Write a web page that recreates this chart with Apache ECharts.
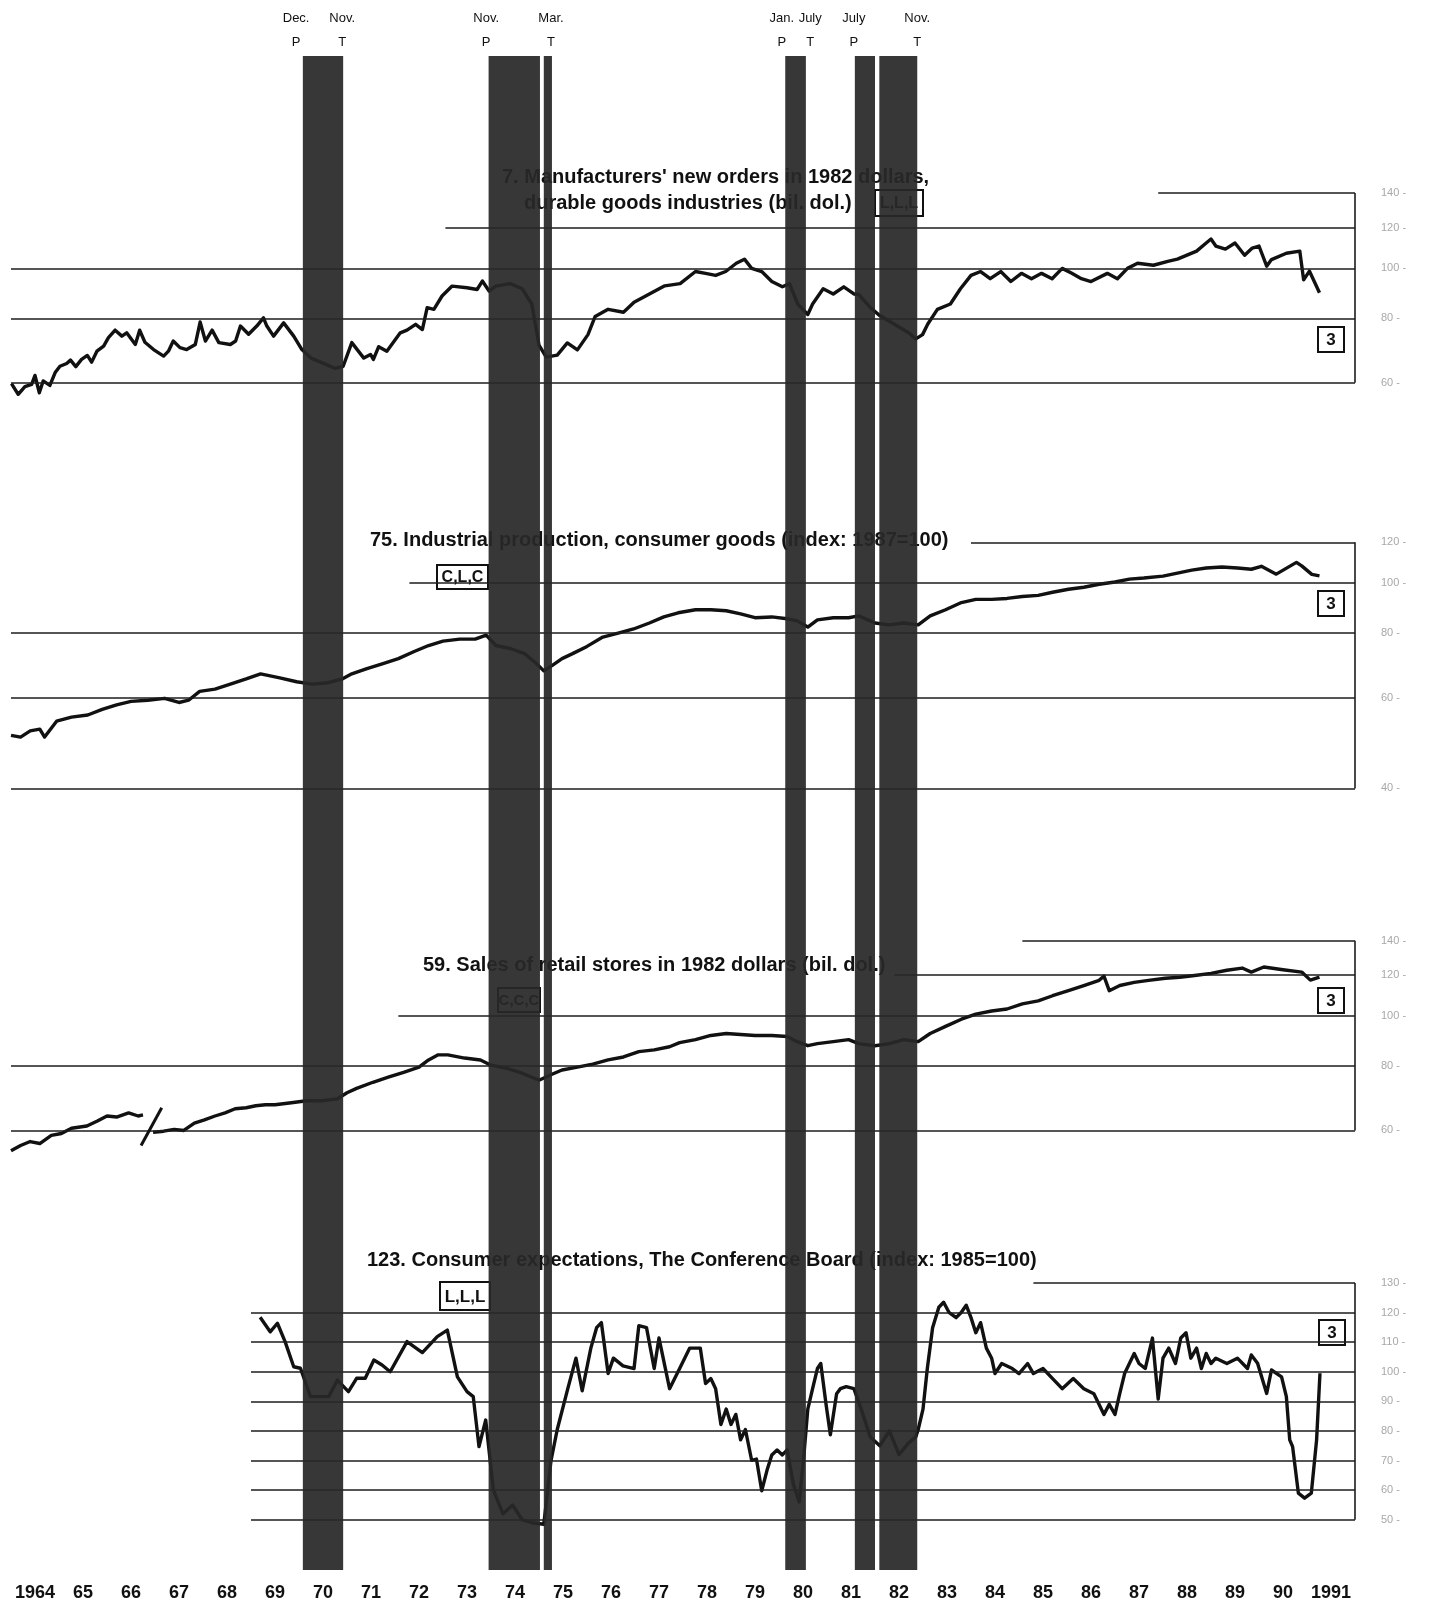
<!DOCTYPE html>
<html><head><meta charset="utf-8">
<script src="https://cdn.jsdelivr.net/npm/echarts@6/dist/echarts.min.js"></script>
<style>html,body{margin:0;background:#fff}#c{width:1452px;height:1602px}</style>
</head><body><div id="c"></div><script>
// ---------------- data ----------------
const yearTicks = ['1964','65','66','67','68','69','70','71','72','73','74','75','76','77','78','79','80','81','82','83','84','85','86','87','88','89','90','1991'];

const recessionBands = [[1970.08,1970.92],[1973.95,1975.02],[1975.10,1975.27],[1980.13,1980.56],[1981.58,1982.00],[1982.09,1982.88]];
const turnDates  = [1969.94, 1970.90, 1973.90, 1975.25, 1980.06, 1980.65, 1981.56, 1982.88];
const turnMonths = ['Dec.','Nov.','Nov.','Mar.','Jan.','July','July','Nov.'];
const turnTypes  = ['P','T','P','T','P','T','P','T'];

const titles = [
  ["7. Manufacturers' new orders in 1982 dollars,", "durable goods industries (bil. dol.)"],
  ["75. Industrial production, consumer goods (index: 1987=100)"],
  ["59. Sales of retail stores in 1982 dollars (bil. dol.)"],
  ["123. Consumer expectations, The Conference Board (index: 1985=100)"]
];
const timingCodes = ['L,L,L','C,L,C','C,C,C','L,L,L'];

const p1Levels = [140,120,100,80,60];
const p1Starts = [1987.9,1973.05,1964,1964,1964];
const p2Levels = [120,100,80,60,40];
const p2Starts = [1984.0,1972.3,1964,1964,1964];
const p3Levels = [140,120,100,80,60];
const p3Starts = [1985.07,1982.4,1972.07,1964,1964];
const p4Levels = [130,120,110,100,90,80,70,60,50];
const p4Starts = [1985.3,1969,1969,1969,1969,1969,1969,1969,1969];

const newOrders = [
[1964.01,59.8],[1964.15,57],[1964.29,59],[1964.43,59.6],[1964.5,62],[1964.59,57.4],[1964.67,60.5],[1964.81,59.3],[1964.92,62.8],[1965.02,64.6],[1965.16,65.4],[1965.24,66.4],[1965.35,64.5],[1965.47,66.6],[1965.59,67.8],[1965.68,65.8],[1965.79,69.1],[1965.93,70.7],[1966.03,73.4],[1966.17,75.9],[1966.31,73.9],[1966.41,75],[1966.59,71.2],[1966.68,75.9],[1966.79,71.9],[1966.97,69.6],[1967.18,67.6],[1967.28,69.1],[1967.38,72.3],[1967.52,70.2],[1967.66,69.6],[1967.84,71.2],[1967.94,78.7],[1968.05,72.3],[1968.19,75.9],[1968.33,71.8],[1968.57,71.2],[1968.68,72.3],[1968.78,77.3],[1968.95,74.5],[1969.12,77.3],[1969.26,80.2],[1969.33,77.3],[1969.47,73.9],[1969.68,78.4],[1969.89,73.9],[1970.06,69.6],[1970.25,67],[1970.5,65.5],[1970.75,64],[1970.92,64.6],[1971.1,71.8],[1971.35,67],[1971.49,68.1],[1971.55,66.6],[1971.66,70.5],[1971.83,69.1],[1972.11,75],[1972.25,75.9],[1972.43,77.9],[1972.57,76.1],[1972.67,83.9],[1972.81,83.3],[1972.98,88.4],[1973.19,92.4],[1973.5,91.7],[1973.71,91],[1973.82,94.5],[1973.96,90.4],[1974.1,92.4],[1974.4,93.4],[1974.65,91.3],[1974.85,85.3],[1975.0,71],[1975.15,67.3],[1975.38,67.9],[1975.59,71.7],[1975.8,69.5],[1976.02,74.4],[1976.17,80.7],[1976.44,83.3],[1976.76,82.2],[1976.98,86],[1977.3,89.2],[1977.62,92.5],[1977.94,93.4],[1978.26,98.6],[1978.47,97.8],[1978.68,96.9],[1978.89,98.6],[1979.11,102.3],[1979.28,104.2],[1979.43,100],[1979.64,98.6],[1979.85,94.3],[1980.07,92.1],[1980.22,93.4],[1980.39,85.3],[1980.6,81.4],[1980.7,85.3],[1980.92,91.3],[1981.13,89.2],[1981.35,92.1],[1981.56,89.2],[1981.66,89],[1981.9,84],[1982.1,81],[1982.3,79],[1982.5,77],[1982.7,75],[1982.85,73],[1982.99,74.4],[1983.1,78],[1983.3,83.3],[1983.57,85.3],[1983.78,91.3],[1984.0,96.9],[1984.2,98.6],[1984.4,95.5],[1984.62,98.6],[1984.83,94.3],[1985.05,97.8],[1985.26,95.5],[1985.47,97.8],[1985.69,95.5],[1985.9,100],[1986.1,97.8],[1986.3,95.5],[1986.5,94.3],[1986.84,97.8],[1987.05,95.5],[1987.26,100],[1987.47,102.3],[1987.8,101.4],[1988.1,103.2],[1988.3,104.2],[1988.5,106.1],[1988.7,108],[1988.9,112],[1989.0,114],[1989.1,110.5],[1989.3,109],[1989.5,112],[1989.7,106],[1989.86,109.5],[1990.0,110.5],[1990.16,101],[1990.26,104],[1990.57,107],[1990.85,108],[1990.93,95],[1991.05,98.8],[1991.26,89.7]
];

const consumerGoods = [
[1964.0,50.7],[1964.2,50.3],[1964.4,51.7],[1964.6,52.1],[1964.7,50.3],[1964.95,54],[1965.26,55],[1965.6,55.5],[1965.9,56.9],[1966.2,58.1],[1966.5,59],[1966.85,59.3],[1967.2,59.8],[1967.5,58.7],[1967.7,59.3],[1967.93,61.7],[1968.25,62.3],[1968.57,63.7],[1968.9,65.2],[1969.2,66.7],[1969.4,66.1],[1969.6,65.5],[1969.95,64.4],[1970.27,63.7],[1970.6,64.1],[1970.9,65.2],[1971.1,66.7],[1971.4,68.2],[1971.75,69.8],[1972.07,71.4],[1972.4,73.7],[1972.7,75.7],[1973.0,77.2],[1973.35,77.9],[1973.67,77.9],[1973.9,79.3],[1974.1,75.7],[1974.4,74.7],[1974.7,73],[1974.95,69.8],[1975.1,67.6],[1975.27,69.2],[1975.48,71.4],[1975.7,73],[1976.0,75.4],[1976.33,78.6],[1976.65,80],[1976.97,81.5],[1977.3,83.7],[1977.6,86],[1977.9,87.6],[1978.26,88.8],[1978.58,88.8],[1978.9,88.4],[1979.2,87.2],[1979.5,85.7],[1979.85,86],[1980.17,85.3],[1980.38,84.5],[1980.6,82.2],[1980.8,84.9],[1981.13,85.7],[1981.45,85.7],[1981.66,86.4],[1982.0,83.7],[1982.3,83],[1982.6,83.7],[1982.9,83],[1983.15,86.4],[1983.47,88.8],[1983.8,91.7],[1984.1,93],[1984.43,93],[1984.75,93.4],[1985.07,94.2],[1985.4,94.7],[1985.7,96],[1986.03,97.3],[1986.35,98.2],[1986.67,99.5],[1987.0,100.5],[1987.3,101.8],[1987.6,102.3],[1988.0,103.2],[1988.3,104.6],[1988.6,106],[1988.9,107],[1989.23,107.5],[1989.55,107],[1989.84,106.4],[1990.05,107.8],[1990.36,104.1],[1990.78,109.7],[1990.89,108],[1991.1,104],[1991.26,103.3]
];

const retailSales = [
[1964.0,54.8],[1964.2,56.1],[1964.4,57.1],[1964.6,56.6],[1964.84,58.7],[1965.05,59.2],[1965.26,60.6],[1965.58,61.2],[1965.8,62.6],[1966.0,64],[1966.2,63.7],[1966.45,64.9],[1966.65,64],[1966.75,64.3],[1966.85,null],[1966.96,59.5],[1967.18,59.8],[1967.4,60.3],[1967.6,60],[1967.82,62],[1968.03,62.9],[1968.25,64],[1968.46,64.9],[1968.67,66.1],[1968.9,66.4],[1969.1,67],[1969.3,67.3],[1969.5,67.3],[1969.84,67.9],[1970.16,68.5],[1970.48,68.5],[1970.8,69.1],[1971.0,71],[1971.2,72.4],[1971.54,74.4],[1971.86,76.1],[1972.18,77.8],[1972.5,79.6],[1972.7,82.2],[1972.9,84.1],[1973.1,84.1],[1973.45,82.9],[1973.78,82.2],[1974.0,80.3],[1974.3,79.3],[1974.6,77.8],[1974.85,76.1],[1975.0,75.1],[1975.27,77.1],[1975.48,78.6],[1975.8,79.6],[1976.12,80.7],[1976.44,82.2],[1976.76,83.3],[1977.08,85.3],[1977.4,86],[1977.72,87.2],[1977.93,88.8],[1978.26,90],[1978.58,91.7],[1978.9,92.5],[1979.2,92.1],[1979.5,91.7],[1979.85,91.7],[1980.17,91.3],[1980.38,89.2],[1980.6,87.6],[1980.8,88.4],[1981.13,89.2],[1981.45,90],[1981.66,88.4],[1982.0,87.6],[1982.3,88.4],[1982.6,90],[1982.9,89.2],[1983.15,92.5],[1983.47,95.5],[1983.8,98.6],[1984.1,100.9],[1984.43,102.3],[1984.75,103.2],[1985.07,105.6],[1985.4,107],[1985.7,109.5],[1986.03,112],[1986.35,114.6],[1986.67,117.3],[1986.77,119.5],[1986.88,112],[1987.1,114.6],[1987.4,116.2],[1987.7,117.3],[1988.05,118.4],[1988.35,118.9],[1988.7,120],[1989.0,121],[1989.33,122.7],[1989.65,123.9],[1989.84,121.7],[1990.1,124.5],[1990.5,123],[1990.89,121.7],[1991.07,117.4],[1991.26,119]
];
const retailBreak = [[1966.71,56.1],[1967.14,66.4]];

const expectations = [
[1969.19,118.4],[1969.4,113.5],[1969.55,116.4],[1969.71,110.2],[1969.89,101.7],[1970.03,101.2],[1970.24,91.6],[1970.62,91.6],[1970.8,97.2],[1971.03,93.3],[1971.2,97.8],[1971.38,97.8],[1971.56,104],[1971.73,102.3],[1971.9,100],[1972.25,110.2],[1972.57,106.5],[1972.88,111.9],[1973.09,114.1],[1973.3,98.3],[1973.5,93.3],[1973.63,91.6],[1973.75,74.7],[1973.89,83.7],[1974.05,60],[1974.25,52],[1974.45,55],[1974.65,50],[1974.85,49],[1975.1,48.5],[1975.25,70],[1975.38,80.5],[1975.6,94.3],[1975.77,104.6],[1975.9,93.6],[1976.08,108],[1976.2,114.9],[1976.3,116.6],[1976.44,99.4],[1976.55,104.6],[1976.75,102],[1976.98,101.1],[1977.08,115.6],[1977.24,114.9],[1977.4,101.1],[1977.5,111.4],[1977.72,94.3],[1977.93,101.1],[1978.14,108],[1978.36,108],[1978.47,96],[1978.58,97.7],[1978.68,94.3],[1978.79,82.2],[1978.9,87.4],[1979.0,82.2],[1979.1,85.6],[1979.2,77],[1979.3,80.5],[1979.43,70.1],[1979.53,70.5],[1979.64,59.8],[1979.75,66.7],[1979.85,71.9],[1979.96,73.6],[1980.07,71.9],[1980.17,73.6],[1980.3,62],[1980.42,56],[1980.52,72],[1980.6,87.4],[1980.7,94.3],[1980.8,101.1],[1980.87,102.8],[1980.98,89],[1981.07,78.7],[1981.2,92.6],[1981.28,94.3],[1981.4,95],[1981.56,94.3],[1981.7,88],[1981.9,78],[1982.1,75],[1982.3,80],[1982.5,72],[1982.7,76],[1982.85,78],[1982.9,80.5],[1983.0,87.4],[1983.09,101.1],[1983.2,114.9],[1983.33,121.8],[1983.43,123.5],[1983.54,120.1],[1983.69,118.3],[1983.8,120.1],[1983.9,122.5],[1984.0,118.3],[1984.1,113.2],[1984.2,116.6],[1984.32,108],[1984.43,104.6],[1984.5,99.4],[1984.64,102.8],[1984.86,101.1],[1985.0,99.4],[1985.18,102.8],[1985.3,99.4],[1985.5,101.1],[1985.7,97.7],[1985.9,94.3],[1986.13,97.7],[1986.35,94.3],[1986.56,92.6],[1986.77,85.6],[1986.88,89],[1987.0,85.6],[1987.09,92],[1987.2,99.4],[1987.3,102.8],[1987.4,106.2],[1987.5,102.8],[1987.63,101.1],[1987.78,111.4],[1987.9,90.8],[1988.0,104.6],[1988.12,108],[1988.26,102.8],[1988.37,111.4],[1988.48,113.2],[1988.58,104.6],[1988.7,108],[1988.8,101.1],[1988.9,106.2],[1989.0,102.8],[1989.1,104.6],[1989.33,102.8],[1989.55,104.6],[1989.76,101.1],[1989.84,105.7],[1989.97,102.9],[1990.16,92.7],[1990.26,100.6],[1990.47,98.3],[1990.57,91.6],[1990.64,77],[1990.7,74.7],[1990.82,59],[1990.95,57.3],[1991.09,59],[1991.2,77],[1991.27,99.5]
];

// ---------------- chart ----------------
const X0 = 1964, X1 = 1992;
const LEFT = 11, RIGHT = 97;
const LINE_C = '#111';
const GRID_C = '#1c1c1c';
const SANS = '"Liberation Sans", Arial, sans-serif';
const NARROW = '"Liberation Sans Narrow", "Liberation Sans", sans-serif';

function gridMarks(levels, starts) {
  const data = levels.map((v, i) => [
    {coord: [starts[i], v]},
    {coord: [X1, v], label: {show: true, position: 'end', formatter: v + ' -', distance: 26,
      color: '#a8a8a8', fontSize: 11, fontFamily: NARROW}}
  ]);
  data.push([{coord: [X1, levels[0]]}, {coord: [X1, levels[levels.length - 1]]}]);
  return {
    silent: true, symbol: 'none', animation: false,
    lineStyle: {color: GRID_C, width: 1.6, type: 'solid'},
    label: {show: false},
    emphasis: {disabled: true},
    data: data
  };
}

function lineSeries(idx, data, levels, starts, extraMarks) {
  const ml = gridMarks(levels, starts);
  if (extraMarks) extraMarks.forEach(m => ml.data.push(m));
  return {
    type: 'line', xAxisIndex: idx, yAxisIndex: idx, data: data,
    showSymbol: false, symbol: 'none', connectNulls: false, animation: false,
    lineStyle: {color: LINE_C, width: 3.4, join: 'round'},
    z: 3, markLine: ml
  };
}

const grids = [
  {left: LEFT, right: RIGHT, top: 193, height: 209.3},
  {left: LEFT, right: RIGHT, top: 542.3, height: 246.1},
  {left: LEFT, right: RIGHT, top: 940.7, height: 221.8},
  {left: LEFT, right: RIGHT, top: 1283, height: 248.6},
  {left: LEFT, right: RIGHT, top: 56, bottom: 30}
];

const xAxes = [0,1,2,3].map(i => ({type: 'value', gridIndex: i, min: X0, max: X1, show: false}));
xAxes.push({
  type: 'value', gridIndex: 4, min: X0, max: X1, interval: 0.5,
  axisLine: {show: false}, axisTick: {show: false}, splitLine: {show: false},
  axisLabel: {
    margin: 14, color: '#111', fontFamily: SANS, fontWeight: 'bold', fontSize: 18,
    showMinLabel: true, showMaxLabel: true,
    formatter: v => {
      const f = v - Math.floor(v);
      if (Math.abs(f - 0.5) > 0.01) return '';
      const k = Math.floor(v) - X0;
      return yearTicks[k] || '';
    }
  }
});

const yAxes = [
  {type: 'log', logBase: 10, gridIndex: 0, min: 55, max: 140, show: false},
  {type: 'log', logBase: 10, gridIndex: 1, min: 40, max: 120, show: false},
  {type: 'log', logBase: 10, gridIndex: 2, min: 52, max: 140, show: false},
  {type: 'value', gridIndex: 3, min: 46, max: 130, show: false},
  {type: 'value', gridIndex: 4, min: 0, max: 1, show: false}
];

const breakMark = [{coord: retailBreak[0], lineStyle: {width: 3, color: LINE_C}}, {coord: retailBreak[1]}];

const series = [
  lineSeries(0, newOrders, p1Levels, p1Starts),
  lineSeries(1, consumerGoods, p2Levels, p2Starts),
  lineSeries(2, retailSales, p3Levels, p3Starts, [breakMark]),
  lineSeries(3, expectations, p4Levels, p4Starts),
  {
    type: 'custom', xAxisIndex: 4, yAxisIndex: 4, zlevel: 1, z: 10, silent: true, animation: false,
    data: recessionBands,
    renderItem: (params, api) => {
      const a = api.coord([api.value(0), 1]);
      const b = api.coord([api.value(1), 0]);
      return {type: 'rect', shape: {x: a[0], y: a[1], width: b[0] - a[0], height: b[1] - a[1]},
        style: {fill: 'rgba(40,40,40,0.93)'}};
    }
  },
  {
    type: 'custom', xAxisIndex: 4, yAxisIndex: 4, zlevel: 1, z: 10, silent: true, animation: false,
    data: turnDates.map(d => [d, 1]),
    renderItem: (params, api) => {
      const i = params.dataIndex;
      const p = api.coord([api.value(0), 1]);
      return {type: 'group', children: [
        {type: 'text', x: p[0], y: p[1] - 38, style: {text: turnMonths[i], textAlign: 'center', textVerticalAlign: 'middle',
          align: 'center', verticalAlign: 'middle', font: '13px ' + NARROW, fill: '#111'}},
        {type: 'text', x: p[0], y: p[1] - 14, style: {text: turnTypes[i], textAlign: 'center', textVerticalAlign: 'middle',
          align: 'center', verticalAlign: 'middle', font: '13px ' + NARROW, fill: '#111'}}
      ]};
    }
  }
];

function titleText(text, x, y) {
  return {type: 'text', x: x, y: y, z: 1, silent: true,
    style: {text: text, font: 'bold 20px ' + SANS, fill: '#111', textVerticalAlign: 'middle', verticalAlign: 'middle'}};
}
function box(text, x, y, w, h, font) {
  return {type: 'group', x: x, y: y, z: 5, silent: true, children: [
    {type: 'rect', z: 5, shape: {x: 0, y: 0, width: w, height: h}, style: {fill: '#fff', stroke: '#111', lineWidth: 2}},
    {type: 'text', z: 6, x: w / 2, y: h / 2 + 1, style: {text: text, font: font, fill: '#111',
      textAlign: 'center', textVerticalAlign: 'middle', align: 'center', verticalAlign: 'middle'}}
  ]};
}

const graphics = [
  titleText(titles[0][0], 502, 177),
  titleText(titles[0][1], 524, 203),
  titleText(titles[1][0], 370, 540),
  titleText(titles[2][0], 423, 965),
  titleText(titles[3][0], 367, 1260),
  box(timingCodes[0], 875, 190, 48, 26, 'bold 16px ' + NARROW),
  box(timingCodes[1], 437, 565, 51, 24, 'bold 16px ' + NARROW),
  box(timingCodes[2], 498, 988, 42, 24, 'bold 15px ' + NARROW),
  box(timingCodes[3], 440, 1282, 50, 28, 'bold 17px ' + NARROW),
  box('3', 1318, 327, 26, 25, 'bold 17px ' + SANS),
  box('3', 1318, 591, 26, 25, 'bold 17px ' + SANS),
  box('3', 1318, 988, 26, 25, 'bold 17px ' + SANS),
  box('3', 1319, 1320, 26, 25, 'bold 17px ' + SANS)
];

const chart = echarts.init(document.getElementById('c'), null, {renderer: 'canvas'});
chart.setOption({
  animation: false,
  backgroundColor: '#fff',
  grid: grids,
  xAxis: xAxes,
  yAxis: yAxes,
  series: series,
  graphic: graphics
});
</script></body></html>
